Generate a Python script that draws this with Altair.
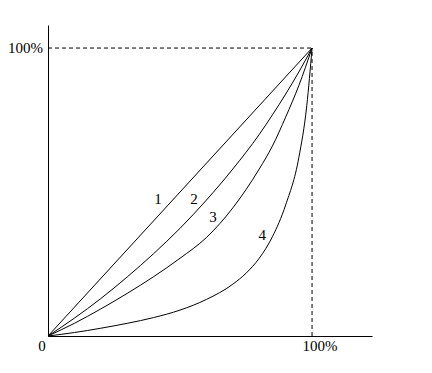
import altair as alt
import pandas as pd

# Lorenz-type curves (share of population -> share of value)
x1 = [0, 1.0]
y1 = [0, 1.0]
x2 = [0, .1, .2, .3, .4, .5, .6, .7, .8, .85, .9, .95, 1.0]
y2 = [0, .062, .13, .205, .286, .374, .472, .58, .70, .768, .84, .917, 1.0]
x3 = [0, .1, .2, .3, .4, .5, .6, .7, .8, .85, .9, .95, 1.0]
y3 = [0, .044, .094, .148, .206, .27, .342, .445, .58, .66, .76, .87, 1.0]
x4 = [0, .1, .2, .3, .4, .5, .6, .7, .75, .8, .85, .9, .95, .98, 1.0]
y4 = [0, .012, .027, .044, .064, .09, .127, .18, .218, .27, .345, .455, .62, .80, 1.0]

label_text = ["1", "2", "3", "4"]
label_x = [0.417, 0.553, 0.625, 0.811]
label_y = [0.476, 0.476, 0.413, 0.351]

rows = []
for cid, xs_, ys_ in [("1", x1, y1), ("2", x2, y2), ("3", x3, y3), ("4", x4, y4)]:
    for i, (a, b) in enumerate(zip(xs_, ys_)):
        rows.append({"curve": cid, "x": a, "y": b, "order": i})
curves_df = pd.DataFrame(rows)
labels_df = pd.DataFrame({"t": label_text, "x": label_x, "y": label_y})

FONT = "Liberation Serif"
xs = alt.Scale(domain=[0, 1.227], nice=False, zero=False)
ys = alt.Scale(domain=[0, 1.08], nice=False, zero=False)
X = alt.X("x:Q", scale=xs, axis=alt.Axis(labels=False, ticks=False, grid=False, title=None, domainColor="black", domainWidth=1))
Y = alt.Y("y:Q", scale=ys, axis=alt.Axis(labels=False, ticks=False, grid=False, title=None, domainColor="black", domainWidth=1))

lines = alt.Chart(curves_df).mark_line(color="black", strokeWidth=1, interpolate="monotone").encode(
    x=X, y=Y, detail="curve:N", order="order:Q"
)

dash_df = pd.DataFrame({"x": [0, 1], "y": [1, 0], "x2": [1, 1], "y2": [1, 1]})
dashes = alt.Chart(dash_df).mark_rule(color="black", strokeWidth=1, strokeDash=[4, 3]).encode(
    x=alt.X("x:Q", scale=xs), y=alt.Y("y:Q", scale=ys), x2="x2:Q", y2="y2:Q"
)

curve_labels = alt.Chart(labels_df).mark_text(font=FONT, fontSize=15, color="black").encode(
    x=alt.X("x:Q", scale=xs), y=alt.Y("y:Q", scale=ys), text="t:N"
)

tick_text = ["100%", "0", "100%"]
tick_x = [0, 0, 1]
tick_y = [1, 0, 0]
tick_df = pd.DataFrame({"t": tick_text, "x": tick_x, "y": tick_y})

left_lab = alt.Chart(tick_df.iloc[[0]]).mark_text(font=FONT, fontSize=15, color="black", align="right", baseline="middle", dx=-5).encode(
    x=alt.X("x:Q", scale=xs), y=alt.Y("y:Q", scale=ys), text="t:N")
zero_lab = alt.Chart(tick_df.iloc[[1]]).mark_text(font=FONT, fontSize=15, color="black", align="center", baseline="middle", dx=-6, dy=10).encode(
    x=alt.X("x:Q", scale=xs), y=alt.Y("y:Q", scale=ys), text="t:N")
right_lab = alt.Chart(tick_df.iloc[[2]]).mark_text(font=FONT, fontSize=15, color="black", align="center", baseline="middle", dx=8, dy=10).encode(
    x=alt.X("x:Q", scale=xs), y=alt.Y("y:Q", scale=ys), text="t:N")

chart = alt.layer(lines, dashes, curve_labels, left_lab, zero_lab, right_lab).properties(
    width=324, height=311,
    background="white",
    autosize=alt.AutoSizeParams(type="none"),
    padding={"left": 40, "top": 17, "right": 40, "bottom": 29},
).configure_view(stroke=None)

chart.save("out.html", embed_options={"renderer": "svg", "actions": False})
